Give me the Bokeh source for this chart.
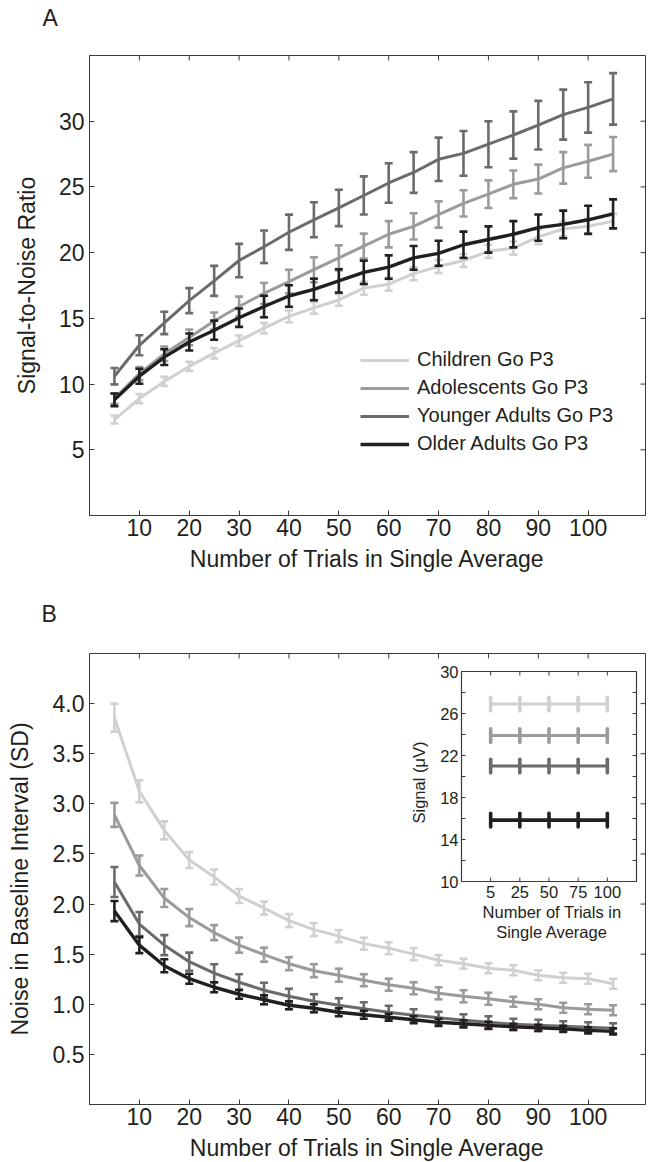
import numpy as np
from bokeh.plotting import figure
from bokeh.models import Range1d, FixedTicker, Legend, LegendItem, PrintfTickFormatter, Title
from bokeh.layouts import column
from bokeh.embed import file_html
from bokeh.resources import INLINE
from bokeh.core.properties import value

# ---------------- data ----------------
trials = [5, 10, 15, 20, 25, 30, 35, 40, 45, 50, 55, 60, 65, 70, 75, 80, 85, 90, 95, 100, 105]
x_ticks = [10, 20, 30, 40, 50, 60, 70, 80, 90, 100]
snr_ticks = [5, 10, 15, 20, 25, 30]
noise_ticks = [0.5, 1.0, 1.5, 2.0, 2.5, 3.0, 3.5, 4.0]
group_labels = ["Children Go P3", "Adolescents Go P3", "Younger Adults Go P3", "Older Adults Go P3"]

# Panel A: signal-to-noise ratio (mean, +/- error)
children_snr = [7.3, 8.9, 10.2, 11.35, 12.35, 13.3, 14.25, 15.15, 15.8, 16.4, 17.3, 17.6, 18.4, 18.95, 19.4, 20.1, 20.35, 21.2, 21.8, 22.0, 22.4]
children_snr_err = [0.3, 0.35, 0.35, 0.35, 0.4, 0.4, 0.4, 0.45, 0.45, 0.45, 0.5, 0.5, 0.5, 0.5, 0.5, 0.5, 0.5, 0.55, 0.55, 0.55, 0.55]
adolescents_snr = [8.9, 10.8, 12.3, 13.55, 14.8, 15.9, 16.9, 17.8, 18.7, 19.6, 20.5, 21.4, 22.0, 22.9, 23.75, 24.45, 25.2, 25.6, 26.45, 26.95, 27.5]
adolescents_snr_err = [0.4, 0.5, 0.55, 0.6, 0.65, 0.75, 0.8, 0.9, 0.95, 0.95, 0.95, 1.0, 1.0, 1.0, 1.0, 1.05, 1.05, 1.1, 1.2, 1.25, 1.3]
younger_snr = [10.6, 12.95, 14.65, 16.35, 17.85, 19.4, 20.45, 21.55, 22.5, 23.4, 24.35, 25.3, 26.1, 27.1, 27.55, 28.25, 28.95, 29.7, 30.5, 31.05, 31.7]
younger_snr_err = [0.62, 0.76, 0.85, 0.95, 1.14, 1.27, 1.24, 1.34, 1.33, 1.38, 1.45, 1.5, 1.55, 1.65, 1.7, 1.75, 1.8, 1.85, 1.9, 1.92, 1.96]
older_snr = [8.8, 10.6, 12.05, 13.2, 14.1, 15.05, 15.9, 16.7, 17.2, 17.85, 18.5, 18.9, 19.6, 19.95, 20.6, 21.0, 21.4, 21.9, 22.15, 22.5, 22.95]
older_snr_err = [0.48, 0.57, 0.6, 0.65, 0.73, 0.7, 0.82, 0.82, 0.82, 0.89, 0.89, 0.89, 0.9, 0.95, 1.0, 1.0, 1.0, 1.0, 1.05, 1.07, 1.1]

# Panel B: noise in baseline interval (SD)
children_noise = [3.86, 3.125, 2.735, 2.44, 2.27, 2.08, 1.96, 1.835, 1.745, 1.68, 1.605, 1.56, 1.5, 1.44, 1.405, 1.36, 1.34, 1.29, 1.265, 1.255, 1.205]
children_noise_err = [0.14, 0.11, 0.09, 0.08, 0.075, 0.07, 0.065, 0.065, 0.065, 0.06, 0.06, 0.06, 0.06, 0.05, 0.05, 0.05, 0.05, 0.05, 0.05, 0.05, 0.05]
adolescents_noise = [2.89, 2.385, 2.06, 1.865, 1.715, 1.59, 1.495, 1.405, 1.335, 1.29, 1.24, 1.195, 1.16, 1.11, 1.08, 1.055, 1.025, 1.0, 0.965, 0.95, 0.94]
adolescents_noise_err = [0.12, 0.1, 0.09, 0.085, 0.075, 0.075, 0.07, 0.065, 0.065, 0.065, 0.06, 0.06, 0.06, 0.06, 0.06, 0.06, 0.05, 0.05, 0.05, 0.05, 0.05]
younger_noise = [2.22, 1.8, 1.59, 1.425, 1.31, 1.22, 1.14, 1.08, 1.03, 0.99, 0.955, 0.92, 0.89, 0.865, 0.84, 0.82, 0.8, 0.79, 0.78, 0.77, 0.76]
younger_noise_err = [0.15, 0.12, 0.1, 0.09, 0.09, 0.08, 0.075, 0.075, 0.07, 0.07, 0.065, 0.065, 0.06, 0.06, 0.06, 0.06, 0.055, 0.055, 0.05, 0.05, 0.05]
older_noise = [1.93, 1.59, 1.385, 1.255, 1.17, 1.1, 1.045, 0.99, 0.96, 0.92, 0.895, 0.87, 0.845, 0.82, 0.805, 0.79, 0.775, 0.765, 0.755, 0.74, 0.73]
older_noise_err = [0.1, 0.08, 0.065, 0.05, 0.05, 0.045, 0.045, 0.04, 0.04, 0.04, 0.04, 0.035, 0.035, 0.035, 0.035, 0.035, 0.03, 0.03, 0.03, 0.03, 0.03]

# Inset: signal (uV) by number of trials
inset_positions = [1, 2, 3, 4, 5]
inset_tick_labels = ["5", "25", "50", "75", "100"]
inset_y_labels = [10, 14, 18, 22, 26, 30]
inset_y_ticks = [12, 14, 16, 18, 20, 22, 24, 26, 28]
children_signal = [26.9, 26.9, 26.9, 26.9, 26.9]
adolescents_signal = [23.9, 23.9, 23.9, 23.9, 23.9]
younger_signal = [21.0, 21.0, 21.0, 21.0, 21.0]
older_signal = [15.85, 15.85, 15.85, 15.85, 15.85]
signal_err = [0.65, 0.65, 0.65, 0.65, 0.65]

# ---------------- style ----------------
FONT = "Liberation Sans"
TXT = "#231f20"
FRAME_C = "#3a3a3a"
COLORS = ["#d0d0d0", "#9b9b9b", "#6b6b6b", "#231f20"]
WIDTHS = [3, 3, 3, 3.4]
FW = 556
X_END = 111.5
LEFT = 89
PAGE_W = LEFT + FW + 4


def letter_fig(text, h, offset, standoff):
    # a thin strip whose title carries the panel letter
    p = figure(width=PAGE_W, height=h, x_axis_type=None, y_axis_type=None,
               output_backend="svg", toolbar_location=None, title=None,
               min_border_left=LEFT, min_border_right=4, min_border_top=0, min_border_bottom=0)
    p.outline_line_color = None
    p.grid.visible = False
    p.add_layout(Title(text=text, align="left", offset=offset, standoff=standoff,
                       text_font=FONT, text_font_size="23px", text_font_style="normal",
                       text_color=TXT), "above")
    return p


def base_fig(fh, y_end, yticks, b_top, b_bottom, ylabel, y_standoff):
    p = figure(frame_width=FW, frame_height=fh, x_range=Range1d(0, X_END), y_range=Range1d(0, y_end),
               output_backend="svg", toolbar_location=None, title=None,
               min_border_left=LEFT, min_border_right=4, min_border_top=b_top, min_border_bottom=b_bottom)
    p.outline_line_color = FRAME_C
    p.outline_line_width = 1
    p.xgrid.visible = False
    p.ygrid.visible = False
    p.xaxis.ticker = FixedTicker(ticks=x_ticks)
    p.yaxis.ticker = FixedTicker(ticks=yticks)
    for ax in (p.xaxis, p.yaxis):
        ax.major_tick_in = 5
        ax.major_tick_out = 0
        ax.minor_tick_line_color = None
        ax.major_tick_line_color = FRAME_C
        ax.axis_line_color = FRAME_C
        ax.major_label_text_font = FONT
        ax.major_label_text_font_size = "23px"
        ax.major_label_text_color = TXT
        ax.axis_label_text_font = FONT
        ax.axis_label_text_font_size = "23px"
        ax.axis_label_text_font_style = "normal"
        ax.axis_label_text_color = TXT
    p.xaxis.axis_label = "Number of Trials in Single Average"
    p.xaxis.major_label_standoff = 3
    p.xaxis.axis_label_standoff = 7
    p.yaxis.axis_label = ylabel
    p.yaxis.major_label_standoff = 5
    p.yaxis.axis_label_standoff = y_standoff
    # mirrored inward ticks on top and right edges
    p.ray(x=x_ticks, y=[y_end] * len(x_ticks), length=5, length_units="screen",
          angle=-np.pi / 2, line_color=FRAME_C, line_width=1)
    p.ray(x=[X_END] * len(yticks), y=yticks, length=5, length_units="screen",
          angle=np.pi, line_color=FRAME_C, line_width=1)
    return p


def draw_series(p, means, errs, color, lw, cap, **kw):
    m = np.array(means)
    e = np.array(errs)
    r = p.line(trials, m, line_color=color, line_width=lw, line_join="round", **kw)
    p.segment(x0=trials, y0=m - e, x1=trials, y1=m + e, line_color=color, line_width=2.6, **kw)
    p.dash(x=trials, y=m - e, size=cap, line_color=color, line_width=2.6, **kw)
    p.dash(x=trials, y=m + e, size=cap, line_color=color, line_width=2.6, **kw)
    return r


# ---------------- Panel A ----------------
FH_A = 460
letA = letter_fig("A", 36, -47, 4)
pA = base_fig(FH_A, 35, snr_ticks, 19, 82, "Signal-to-Noise Ratio", 16)
series_a = [(children_snr, children_snr_err), (adolescents_snr, adolescents_snr_err),
            (younger_snr, younger_snr_err), (older_snr, older_snr_err)]
rends = []
for (m, e), c, lw in zip(series_a, COLORS, WIDTHS):
    rends.append(draw_series(pA, m, e, c, lw, 8))

legend = Legend(items=[LegendItem(label=lab, renderers=[r]) for lab, r in zip(group_labels, rends)],
                location=(271, 60), glyph_width=49, glyph_height=22, label_height=22, spacing=5,
                padding=0, margin=0, label_standoff=8, label_text_font=FONT,
                label_text_font_size="20px", label_text_color=TXT,
                border_line_alpha=0, background_fill_alpha=0)
pA.add_layout(legend)

# ---------------- Panel B ----------------
FH_B = 451
letB = letter_fig("B", 34, -48, 2)
pB = base_fig(FH_B, 4.5, noise_ticks, 22, 55, "Noise in Baseline Interval (SD)", 17)
pB.yaxis.formatter = PrintfTickFormatter(format="%.1f")
series_b = [(children_noise, children_noise_err), (adolescents_noise, adolescents_noise_err),
            (younger_noise, younger_noise_err), (older_noise, older_noise_err)]
for (m, e), c, lw in zip(series_b, COLORS, WIDTHS):
    draw_series(pB, m, e, c, lw, 8)

# ---------------- Inset (drawn in panel B on its own ranges) ----------------
IX0, IX1 = 0, 6
IY0, IY1 = 10, 30
INS_L, INS_R, INS_T, INS_B = 372, 547, 18, 228   # pixel box inside panel B frame
kx = (INS_R - INS_L) / (IX1 - IX0)
ky = (INS_B - INS_T) / (IY1 - IY0)
pB.extra_x_ranges = {"ix": Range1d(IX0 - INS_L / kx, IX1 + (FW - INS_R) / kx)}
pB.extra_y_ranges = {"iy": Range1d(IY0 - (FH_B - INS_B) / ky, IY1 + INS_T / ky)}
ik = dict(x_range_name="ix", y_range_name="iy")
IFS = "16.5px"

pB.quad(left=IX0, right=IX1, bottom=IY0, top=IY1, fill_color="white", line_color=FRAME_C, line_width=1.2, **ik)
pB.ray(x=[IX0] * len(inset_y_ticks), y=inset_y_ticks, length=4, length_units="screen", angle=0,
       line_color=FRAME_C, line_width=1, **ik)
pB.ray(x=[IX1] * len(inset_y_ticks), y=inset_y_ticks, length=4, length_units="screen", angle=np.pi,
       line_color=FRAME_C, line_width=1, **ik)
pB.ray(x=inset_positions, y=[IY0] * 5, length=4, length_units="screen", angle=np.pi / 2,
       line_color=FRAME_C, line_width=1, **ik)
pB.ray(x=inset_positions, y=[IY1] * 5, length=4, length_units="screen", angle=-np.pi / 2,
       line_color=FRAME_C, line_width=1, **ik)
pB.text(x=[IX0] * len(inset_y_labels), y=inset_y_labels, text=[str(v) for v in inset_y_labels],
        x_offset=-3, text_align="right", text_baseline="middle", text_font=value(FONT),
        text_font_size=IFS, text_color=TXT, **ik)
pB.text(x=inset_positions, y=[IY0] * 5, text=inset_tick_labels, y_offset=4, text_align="center",
        text_baseline="top", text_font=value(FONT), text_font_size=IFS, text_color=TXT, **ik)
xc = (IX0 + IX1) / 2
pB.text(x=[xc, xc], y=[IY0, IY0], text=["Number of Trials in", "Single Average"], x_offset=3,
        y_offset=[30, 50], text_align="center", text_baseline="middle", text_font=value(FONT),
        text_font_size=IFS, text_color=TXT, **ik)
pB.text(x=[IX0], y=[(IY0 + IY1) / 2], text=["Signal (\u03bcV)"], x_offset=-43, y_offset=6, angle=np.pi / 2,
        text_align="center", text_baseline="middle", text_font=value(FONT),
        text_font_size=IFS, text_color=TXT, **ik)

signals = [children_signal, adolescents_signal, younger_signal, older_signal]
for s, c, lw in zip(signals, COLORS, [3, 3, 3, 3.6]):
    s = np.array(s)
    e = np.array(signal_err)
    pB.line(inset_positions, s, line_color=c, line_width=lw, **ik)
    pB.segment(x0=inset_positions, y0=s - e, x1=inset_positions, y1=s + e, line_color=c,
               line_width=3.6, line_cap="round", **ik)

layout = column(letA, pA, letB, pB)
open("out.html", "w").write(file_html(layout, INLINE))
